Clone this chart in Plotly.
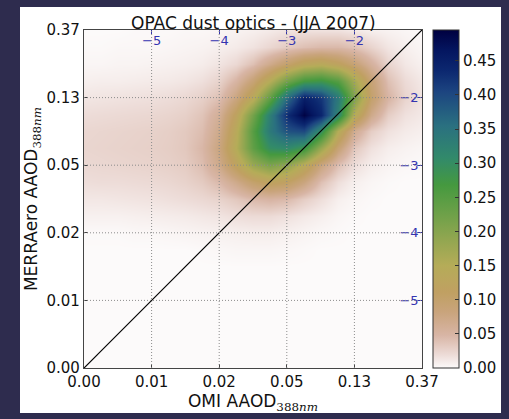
import plotly.graph_objects as go

# ---- data (log-space grid) ----
grid = [-6.0, -5.75, -5.5, -5.25, -5.0, -4.75, -4.5, -4.25, -4.0, -3.75, -3.5,
        -3.25, -3.0, -2.75, -2.5, -2.25, -2.0, -1.75, -1.5, -1.25, -1.0]
tick_pos = [-6, -5, -4, -3, -2, -1]
tick_text = ["0.00", "0.01", "0.02", "0.05", "0.13", "0.37"]
log_ticks = [-5, -4, -3, -2]
log_text = ["\u22125", "\u22124", "\u22123", "\u22122"]
cbar_vals = [0.0, 0.05, 0.10, 0.15, 0.20, 0.25, 0.30, 0.35, 0.40, 0.45]
cbar_text = ["0.00", "0.05", "0.10", "0.15", "0.20", "0.25", "0.30", "0.35", "0.40", "0.45"]
z_max = 0.495

z0 = [0.0] * 21
density = [
    z0, z0, z0, z0, z0, z0, z0,  # y = -6 .. -4.5
    [0, 0, 0, 0, 0, 0, 0, 0.001, 0.002, 0.003, 0.003, 0.003, 0.002, 0.001, 0, 0, 0, 0, 0, 0, 0],
    [0.001, 0.001, 0.001, 0.002, 0.002, 0.003, 0.004, 0.005, 0.006, 0.007, 0.008, 0.008, 0.006, 0.004, 0.002, 0.001, 0, 0, 0, 0, 0],
    [0.006, 0.006, 0.006, 0.007, 0.008, 0.009, 0.01, 0.012, 0.014, 0.018, 0.02, 0.02, 0.016, 0.011, 0.007, 0.003, 0.001, 0, 0, 0, 0],
    [0.012, 0.012, 0.013, 0.014, 0.015, 0.017, 0.019, 0.022, 0.026, 0.034, 0.045, 0.05, 0.045, 0.03, 0.018, 0.007, 0.003, 0.001, 0, 0, 0],
    [0.018, 0.019, 0.019, 0.02, 0.021, 0.023, 0.026, 0.032, 0.045, 0.07, 0.10, 0.12, 0.11, 0.08, 0.04, 0.018, 0.007, 0.003, 0.001, 0, 0],
    [0.022, 0.023, 0.024, 0.025, 0.026, 0.028, 0.031, 0.042, 0.07, 0.12, 0.18, 0.21, 0.19, 0.14, 0.08, 0.04, 0.018, 0.008, 0.004, 0.002, 0.001],
    [0.024, 0.025, 0.026, 0.027, 0.028, 0.03, 0.034, 0.047, 0.08, 0.15, 0.24, 0.30, 0.31, 0.28, 0.18, 0.09, 0.035, 0.016, 0.008, 0.005, 0.003],
    [0.023, 0.024, 0.025, 0.026, 0.027, 0.029, 0.033, 0.042, 0.07, 0.14, 0.25, 0.34, 0.39, 0.40, 0.30, 0.15, 0.065, 0.03, 0.016, 0.01, 0.007],
    [0.019, 0.02, 0.021, 0.022, 0.023, 0.025, 0.028, 0.037, 0.06, 0.12, 0.22, 0.33, 0.43, 0.49, 0.44, 0.32, 0.15, 0.07, 0.03, 0.016, 0.011],
    [0.013, 0.014, 0.015, 0.016, 0.017, 0.019, 0.022, 0.028, 0.04, 0.08, 0.14, 0.24, 0.36, 0.45, 0.42, 0.34, 0.21, 0.10, 0.05, 0.025, 0.014],
    [0.007, 0.008, 0.008, 0.009, 0.01, 0.011, 0.013, 0.017, 0.026, 0.05, 0.09, 0.15, 0.22, 0.27, 0.28, 0.25, 0.17, 0.09, 0.04, 0.02, 0.011],
    [0.003, 0.003, 0.004, 0.004, 0.005, 0.006, 0.007, 0.009, 0.014, 0.022, 0.04, 0.07, 0.10, 0.13, 0.14, 0.12, 0.09, 0.055, 0.025, 0.012, 0.006],
    [0.001, 0.001, 0.002, 0.002, 0.002, 0.003, 0.004, 0.005, 0.007, 0.01, 0.015, 0.023, 0.032, 0.04, 0.045, 0.045, 0.038, 0.025, 0.013, 0.007, 0.003],
    [0, 0, 0, 0.001, 0.001, 0.001, 0.002, 0.002, 0.003, 0.005, 0.007, 0.01, 0.014, 0.015, 0.015, 0.015, 0.011, 0.007, 0.005, 0.003, 0.001],
]

# colour stops (value, colour)
cmap_vals = [0.0, 0.019, 0.048, 0.082, 0.111, 0.15, 0.19, 0.229, 0.268, 0.307, 0.355, 0.405, 0.435, 0.465, 0.495]
cmap_cols = ["#fcfafa", "#eddcd8", "#d8b5a5", "#c9a47c", "#c0a062", "#b5ac58", "#90a650",
             "#6aa048", "#45993f", "#328a6a", "#2a7080", "#1c4480", "#0c2870", "#041660", "#000040"]
colorscale = [[v / z_max, c] for v, c in zip(cmap_vals, cmap_cols)]

# ---- figure ----
L, R, T, B = 84, 87, 30, 51
W, H = 509, 419
pw, ph = W - L - R, H - T - B

fig = go.Figure()
fig.add_trace(go.Heatmap(
    x=grid, y=grid, z=density, zmin=0, zmax=z_max, zsmooth="best",
    colorscale=colorscale, hoverinfo="skip",
    colorbar=dict(
        x=1 + (433 - (L + pw)) / pw, xanchor="left", xpad=0, ypad=0,
        y=0.5, yanchor="middle", len=1, lenmode="fraction", thickness=26,
        outlinecolor="#333333", outlinewidth=1,
        tickvals=cbar_vals, ticktext=cbar_text, ticks="inside", ticklen=4,
        tickcolor="#333333", tickfont=dict(size=15, color="#111111"),
    ),
))
fig.add_trace(go.Scatter(
    x=[tick_pos[0], tick_pos[-1]], y=[tick_pos[0], tick_pos[-1]], mode="lines",
    line=dict(color="black", width=1.2), showlegend=False, hoverinfo="skip",
))
# invisible trace to anchor secondary axes
fig.add_trace(go.Scatter(x=[tick_pos[0]], y=[tick_pos[0]], xaxis="x2", yaxis="y2",
                         mode="markers", marker=dict(opacity=0), showlegend=False,
                         hoverinfo="skip"))

axis_common = dict(
    range=[tick_pos[0], tick_pos[-1]], tickvals=tick_pos, ticktext=tick_text,
    showgrid=False, zeroline=False, showline=True, linecolor="#444444", linewidth=1.2,
    mirror="ticks", ticks="inside", ticklen=4, tickcolor="#444444",
    tickfont=dict(size=15, color="#111111"), automargin=False, layer="above traces",
)

# dotted grid lines drawn above the density, at the tick positions
grid_line = dict(color="#8c8c8c", width=1, dash="1px,2px")
grid_shapes = []
for v in log_ticks:
    grid_shapes.append(dict(type="line", xref="x", yref="paper", x0=v, x1=v, y0=0, y1=1,
                            layer="above", line=grid_line))
    grid_shapes.append(dict(type="line", xref="paper", yref="y", x0=0, x1=1, y0=v, y1=v,
                            layer="above", line=grid_line))

sub = "<sub><span style='font-family:DejaVu Serif'>388<i>nm</i></span></sub>"
fig.update_layout(
    width=W, height=H, margin=dict(l=L, r=R, t=T, b=B, autoexpand=False),
    paper_bgcolor="#2e2c4e", plot_bgcolor="white",
    font=dict(family="DejaVu Sans", color="#111111"),
    showlegend=False,
    xaxis=dict(**axis_common,
               title=dict(text="OMI AAOD" + sub, font=dict(size=17), standoff=3)),
    yaxis=dict(**axis_common,
               title=dict(text="MERRAero AAOD" + sub, font=dict(size=17), standoff=4)),
    xaxis2=dict(range=[tick_pos[0], tick_pos[-1]], overlaying="x", side="top",
                anchor="y", tickvals=log_ticks, ticktext=log_text,
                ticklabelposition="inside", ticks="inside", ticklen=4,
                ticklabelstandoff=2, layer="above traces",
                tickcolor="#3333aa", showgrid=False, zeroline=False,
                showline=False, tickfont=dict(size=13, color="#3434b0")),
    yaxis2=dict(range=[tick_pos[0], tick_pos[-1]], overlaying="y", side="right",
                anchor="x", tickvals=log_ticks, ticktext=log_text,
                ticklabelposition="inside", ticks="inside", ticklen=5,
                ticklabelstandoff=-2, layer="above traces",
                tickcolor="#3333aa", showgrid=False, zeroline=False,
                showline=False, tickfont=dict(size=13, color="#3434b0")),
    shapes=[dict(type="rect", xref="paper", yref="paper", layer="below",
                 x0=(20 - L) / pw, x1=(501 - L) / pw,
                 y0=(H - B - 413) / ph, y1=(H - B - 7) / ph,
                 fillcolor="white", line=dict(width=0))] + grid_shapes,
    annotations=[dict(text="OPAC dust optics - (JJA 2007)", xref="paper", yref="paper",
                      x=0.5, y=1, xanchor="center", yanchor="bottom", yshift=-5,
                      showarrow=False, font=dict(size=17, color="#111111"))],
)
fig.write_html("out.html", config={"displayModeBar": False},
               post_script="document.body.style.margin='0';document.body.style.overflow='hidden';")
